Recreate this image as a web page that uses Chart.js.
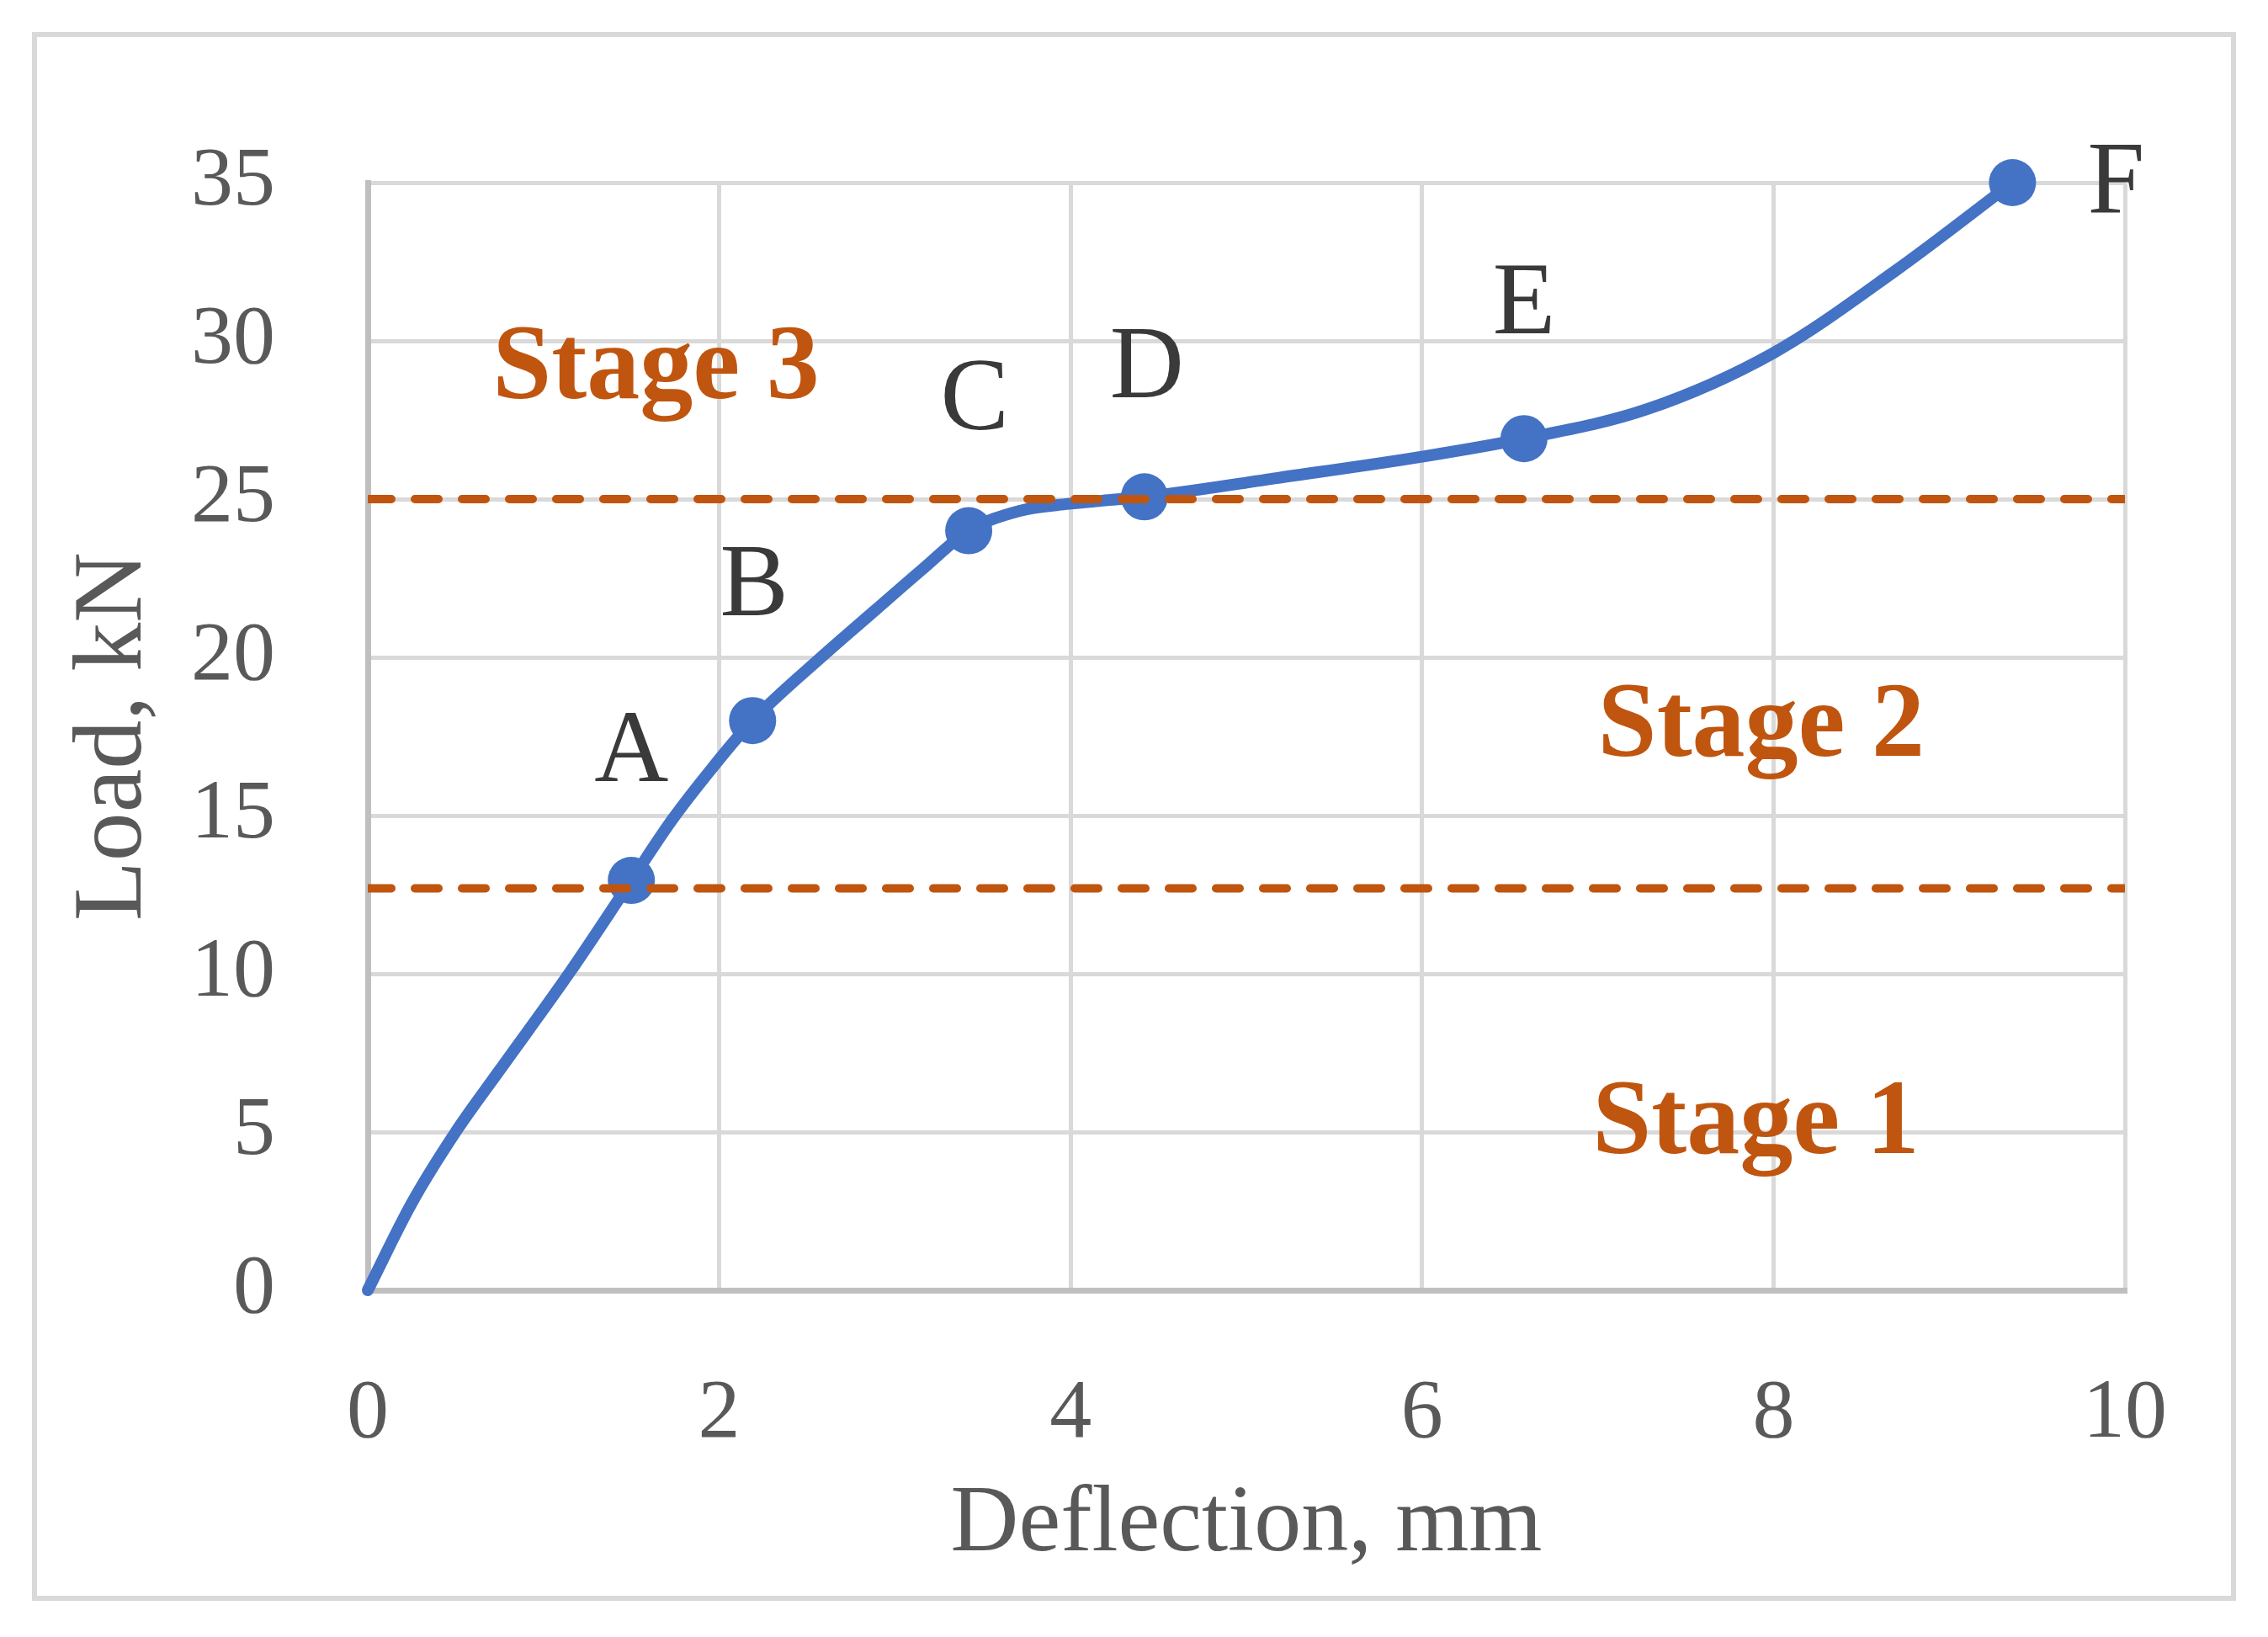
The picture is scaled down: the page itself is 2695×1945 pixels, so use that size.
<!DOCTYPE html>
<html>
<head>
<meta charset="utf-8">
<script src="https://cdn.jsdelivr.net/npm/chart.js@4.4.1/dist/chart.umd.min.js"></script>
<style>
  html, body { margin: 0; padding: 0; background: #fff; }
  canvas { display: block; }
</style>
</head>
<body>
<canvas id="chart" width="2695" height="1945"></canvas>
<script>
// key points
var keyLabels = ['A', 'B', 'C', 'D', 'E', 'F'];
var keyDeflection = [1.50, 2.19, 3.42, 4.42, 6.58, 9.36];
var keyLoad = [12.95, 18.0, 24.0, 25.07, 26.91, 35];

// the smoothed load-deflection trace
var curveDeflection = [0, 0.25, 0.5, 0.75, 1.15, 1.5, 1.73, 1.96, 2.19, 2.58, 2.89, 3.16, 3.42, 3.71, 3.99, 4.18, 4.42, 5.18, 6.0, 6.58, 7.28, 8.0, 8.69, 9.36];
var curveLoad = [0, 2.75, 5.0, 6.95, 10.05, 12.95, 14.85, 16.5, 18.0, 20.0, 21.5, 22.8, 24.0, 24.63, 24.85, 24.95, 25.07, 25.67, 26.34, 26.91, 27.84, 29.62, 32.2, 35];

// stage boundaries (kN) and stage names
var stageBounds = [12.7, 25];
var stageNames = ['Stage 1', 'Stage 2', 'Stage 3'];

var xTicks = [0, 2, 4, 6, 8, 10];
var yTicks = [0, 5, 10, 15, 20, 25, 30, 35];

var blue = '#4472C4';
var rust = '#C0550F';
var serif = '"Liberation Serif", "DejaVu Serif", serif';

function pts(xs, ys) {
  return xs.map(function(x, i) { return {x: x, y: ys[i]}; });
}

var datasets = stageBounds.map(function(v) {
  return {
    data: [{x: xTicks[0], y: v}, {x: xTicks[xTicks.length - 1], y: v}],
    showLine: true,
    borderColor: rust,
    borderWidth: 10,
    borderDash: [28, 28],
    borderCapStyle: 'round',
    pointRadius: 0,
    order: 0
  };
});
datasets.push({
  data: pts(keyDeflection, keyLoad),
  showLine: false,
  pointRadius: 28,
  pointBackgroundColor: blue,
  pointBorderWidth: 0,
  clip: false,
  order: 1
});
datasets.push({
  data: pts(curveDeflection, curveLoad),
  showLine: true,
  borderColor: blue,
  borderWidth: 14,
  cubicInterpolationMode: 'monotone',
  borderCapStyle: 'round',
  borderJoinStyle: 'round',
  pointRadius: 0,
  clip: false,
  order: 2
});

// frame round the whole figure
var framePlugin = {
  id: 'frame',
  beforeDraw: function(chart) {
    var ctx = chart.ctx;
    ctx.save();
    ctx.fillStyle = '#fff';
    ctx.fillRect(0, 0, chart.width, chart.height);
    ctx.strokeStyle = '#D9D9D9';
    ctx.lineWidth = 6;
    ctx.strokeRect(41, 41, chart.width - 82, chart.height - 87);
    ctx.restore();
  }
};

// point letters and stage captions
var notesPlugin = {
  id: 'notes',
  afterDatasetsDraw: function(chart) {
    var ctx = chart.ctx;
    var xs = chart.scales.x, ys = chart.scales.y;
    var offs = [[0, -150], [2, -157], [7, -153], [3, -150], [0, -157], [123, 3]];
    ctx.save();
    ctx.font = '122px ' + serif;
    ctx.fillStyle = '#3A3A3A';
    ctx.textAlign = 'center';
    ctx.textBaseline = 'middle';
    keyLabels.forEach(function(lab, i) {
      ctx.fillText(lab,
        xs.getPixelForValue(keyDeflection[i]) + offs[i][0],
        ys.getPixelForValue(keyLoad[i]) + offs[i][1]);
    });
    // caption anchors in data units (centre x, baseline y)
    var anchors = [[7.9, 4.33], [7.93, 16.9], [1.64, 28.2]];
    ctx.font = 'bold 126px ' + serif;
    ctx.fillStyle = rust;
    ctx.textBaseline = 'alphabetic';
    stageNames.forEach(function(name, i) {
      ctx.fillText(name, xs.getPixelForValue(anchors[i][0]), ys.getPixelForValue(anchors[i][1]));
    });
    ctx.restore();
  }
};

new Chart(document.getElementById('chart'), {
  type: 'scatter',
  data: {datasets: datasets},
  plugins: [framePlugin, notesPlugin],
  options: {
    responsive: false,
    animation: false,
    devicePixelRatio: 1,
    layout: {padding: {left: 41, right: 170, top: 217, bottom: 46}},
    plugins: {legend: {display: false}, tooltip: {enabled: false}},
    scales: {
      x: {
        type: 'linear',
        min: xTicks[0],
        max: xTicks[xTicks.length - 1],
        afterFit: function(s) { s.height = 366; },
        afterBuildTicks: function(s) { s.ticks = xTicks.map(function(v) { return {value: v}; }); },
        grid: {color: '#D9D9D9', lineWidth: 5, drawTicks: false},
        border: {color: '#BFBFBF', width: 7},
        ticks: {color: '#595959', font: {family: serif, size: 100}, padding: 88},
        title: {
          display: true,
          text: 'Deflection, mm',
          color: '#595959',
          font: {family: serif, size: 112},
          padding: {top: 0, bottom: 19}
        }
      },
      y: {
        type: 'linear',
        min: yTicks[0],
        max: yTicks[yTicks.length - 1],
        afterFit: function(s) { s.width = 396; },
        afterBuildTicks: function(s) { s.ticks = yTicks.map(function(v) { return {value: v}; }); },
        grid: {color: '#D9D9D9', lineWidth: 5, drawTicks: false},
        border: {color: '#BFBFBF', width: 7},
        ticks: {color: '#595959', font: {family: serif, size: 100}, padding: 110},
        title: {
          display: true,
          text: 'Load, kN',
          color: '#595959',
          font: {family: serif, size: 116},
          padding: {top: 26, bottom: 0}
        }
      }
    }
  }
});
</script>
</body>
</html>
